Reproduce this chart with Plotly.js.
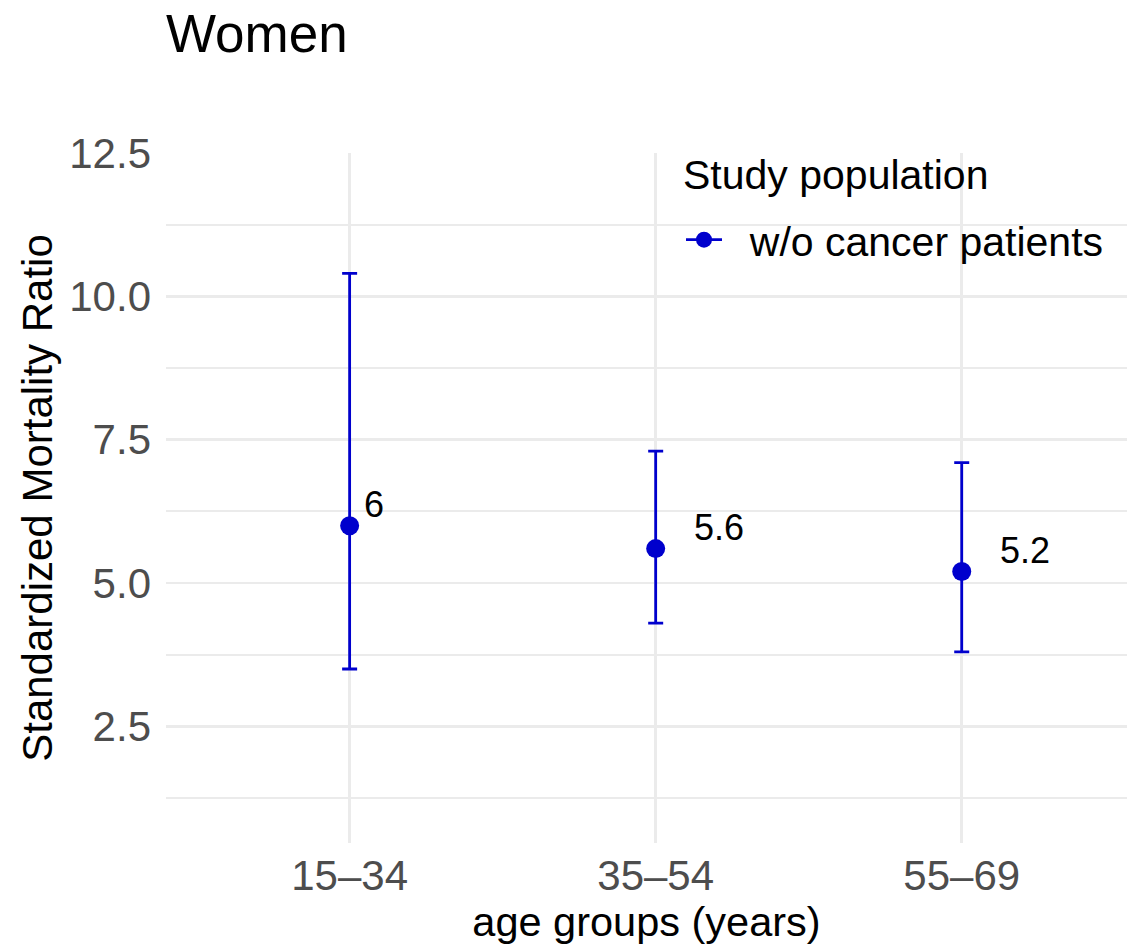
<!DOCTYPE html>
<html>
<head>
<meta charset="utf-8">
<script src="https://cdn.plot.ly/plotly-3.0.1.min.js"></script>
<style>html,body{margin:0;padding:0;background:#fff;}#chart{width:1127px;height:945px;}</style>
</head>
<body>
<div id="chart"></div>
<script>
// ---- data ----
const ageGroups = ["15\u201334", "35\u201354", "55\u201369"];
const smr = [6.0, 5.6, 5.2];
const ciLower = [3.5, 4.3, 3.8];
const ciUpper = [10.4, 7.3, 7.1];
const smrLabels = ["6", "5.6", "5.2"];
const seriesName = "w/o cancer patients";
const legendTitle = "Study population";
const yTickVals = [2.5, 5.0, 7.5, 10.0, 12.5];
const yTickText = ["2.5", "5.0", "7.5", "10.0", "12.5"];

// ---- style ----
const FONT = "'Liberation Sans', Arial, Helvetica, sans-serif";
const BLUE = "#0000CD";
const GRID = "#EBEBEB";
const LABEL_SIZE = 36;
const PLOT_TOP = 153, PLOT_BOTTOM = 843, PLOT_LEFT = 166, PLOT_RIGHT = 1127;

function textWidth(t, size) {
  const c = document.createElement("canvas").getContext("2d");
  c.font = size + "px 'Liberation Sans', Arial, sans-serif";
  return c.measureText(t).width;
}
const py = (pix) => (PLOT_BOTTOM - pix) / (PLOT_BOTTOM - PLOT_TOP);
const px = (pix) => (pix - PLOT_LEFT) / (PLOT_RIGHT - PLOT_LEFT);

const mainTrace = {
  type: "scatter",
  mode: "markers",
  x: ageGroups,
  y: smr,
  showlegend: false,
  marker: { color: BLUE, size: 19 },
  error_y: {
    type: "data",
    symmetric: false,
    array: smr.map((v, i) => ciUpper[i] - v),
    arrayminus: smr.map((v, i) => v - ciLower[i]),
    color: BLUE,
    thickness: 2.8,
    width: 7.5
  },
  hoverinfo: "x+y"
};

const legendTrace = {
  type: "scatter",
  mode: "lines+markers",
  x: [null],
  y: [null],
  name: "\u00A0\u00A0" + seriesName,
  showlegend: true,
  line: { color: BLUE, width: 2.8 },
  marker: { color: BLUE, size: 19 }
};

const annotations = smrLabels.map((t, i) => ({
  x: ageGroups[i],
  y: smr[i],
  xref: "x",
  yref: "y",
  text: t,
  showarrow: false,
  xanchor: "left",
  yanchor: "middle",
  xshift: 0.8 * textWidth(t, LABEL_SIZE) - 4,
  yshift: 21,
  font: { family: FONT, size: LABEL_SIZE, color: "#000000" }
}));

annotations.push({
  xref: "paper", yref: "paper",
  x: px(683), y: py(175),
  xanchor: "left", yanchor: "middle",
  xshift: -2,
  text: legendTitle,
  showarrow: false,
  font: { family: FONT, size: 41, color: "#000000" }
});

const layout = {
  width: 1127,
  height: 945,
  margin: { l: PLOT_LEFT, r: 0, t: PLOT_TOP, b: 945 - PLOT_BOTTOM, pad: 0 },
  paper_bgcolor: "#ffffff",
  plot_bgcolor: "#ffffff",
  font: { family: FONT, color: "#000000" },
  title: {
    text: "Women",
    font: { family: FONT, size: 53, color: "#000000" },
    xref: "paper",
    x: 0,
    xanchor: "left",
    yref: "container",
    y: 1 - 33 / 945,
    yanchor: "middle",
    pad: { l: 0, t: 0, b: 0, r: 0 }
  },
  xaxis: {
    type: "category",
    categoryorder: "array",
    categoryarray: ageGroups,
    range: [-0.6, 2.54],
    showgrid: true,
    gridcolor: GRID,
    gridwidth: 2.6,
    zeroline: false,
    showline: false,
    ticks: "",
    ticklabelstandoff: 4,
    tickfont: { family: FONT, size: 42, color: "#4D4D4D" },
    title: {
      text: "age groups (years)",
      font: { family: FONT, size: 41.5, color: "#000000" },
      standoff: 14
    },
    fixedrange: true
  },
  yaxis: {
    range: [0.465, 12.5],
    tickvals: yTickVals,
    ticktext: yTickText,
    showgrid: true,
    gridcolor: GRID,
    gridwidth: 2.6,
    minor: { dtick: 1.25, tick0: 0, showgrid: true, gridcolor: GRID, gridwidth: 2, ticks: "" },
    zeroline: false,
    showline: false,
    ticks: "",
    ticklabelstandoff: 14,
    tickfont: { family: FONT, size: 42, color: "#4D4D4D" },
    title: {
      text: "Standardized Mortality Ratio",
      font: { family: FONT, size: 42, color: "#000000" },
      standoff: 3
    },
    fixedrange: true
  },
  legend: {
    x: px(681),
    xanchor: "left",
    y: py(240),
    yanchor: "middle",
    bgcolor: "rgba(0,0,0,0)",
    borderwidth: 0,
    font: { family: FONT, size: 41, color: "#000000" },
    itemwidth: 36
  },
  annotations: annotations,
  showlegend: true
};

Plotly.newPlot("chart", [mainTrace, legendTrace], layout, { displayModeBar: false, staticPlot: true });
</script>
</body>
</html>
